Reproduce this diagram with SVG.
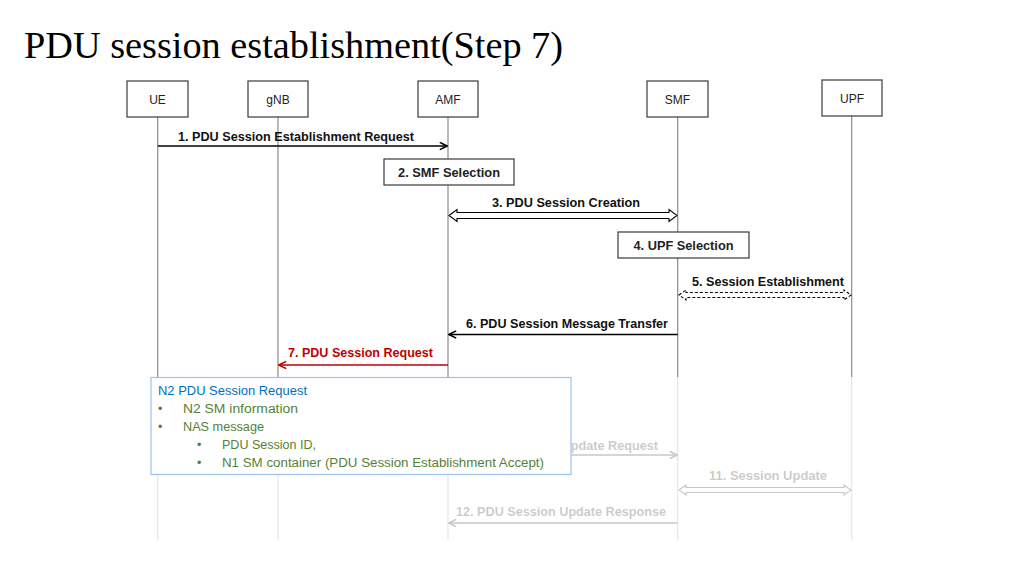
<svg xmlns="http://www.w3.org/2000/svg" width="1024" height="576" viewBox="0 0 1024 576">
<defs>
<style>
.node rect{fill:#fff;stroke:#3a3a3a;stroke-width:1.2}
.node text{font-family:"Liberation Sans",Arial,sans-serif;font-size:12px;fill:#222;text-anchor:middle}
.life{stroke:#8a8a8a;stroke-width:1.2}
.msg{stroke:#000;stroke-width:1.6;fill:none}
.lbl{font-family:"Liberation Sans",Arial,sans-serif;font-size:12.5px;font-weight:bold;fill:#111;text-anchor:middle}
.hollow{fill:#fff;stroke:#000;stroke-width:1.1}
.ct{font-family:"Liberation Sans",Arial,sans-serif;font-size:12.5px}
</style>
<marker id="ah" viewBox="0 0 10 10" refX="9" refY="5" markerWidth="9" markerHeight="9" markerUnits="userSpaceOnUse" orient="auto">
<path d="M1,1 L9,5 L1,9" fill="none" stroke="#000" stroke-width="1.8"/>
</marker>
<marker id="ahr" viewBox="0 0 10 10" refX="9" refY="5" markerWidth="9" markerHeight="9" markerUnits="userSpaceOnUse" orient="auto">
<path d="M1,1 L9,5 L1,9" fill="none" stroke="#c00000" stroke-width="1.8"/>
</marker>
</defs>
<rect width="1024" height="576" fill="#fff"/>
<text x="24" y="58" font-family="Liberation Serif,'Times New Roman',serif" font-size="38" fill="#000" textLength="539" lengthAdjust="spacingAndGlyphs">PDU session establishment(Step 7)</text>

<g id="lifelines">
<line class="life" x1="157.7" y1="117" x2="157.7" y2="540"/>
<line class="life" x1="278" y1="117" x2="278" y2="540"/>
<line class="life" x1="448" y1="117" x2="448" y2="540"/>
<line class="life" x1="677.7" y1="117" x2="677.7" y2="540"/>
<line class="life" x1="851.7" y1="116" x2="851.7" y2="540"/>
</g>

<g id="UE" class="node"><rect x="127" y="81" width="61" height="36"/><text x="157.5" y="104">UE</text></g>
<g id="gNB" class="node"><rect x="248" y="81" width="60" height="36"/><text x="278" y="104">gNB</text></g>
<g id="AMF" class="node"><rect x="418" y="81" width="60" height="36"/><text x="448" y="104">AMF</text></g>
<g id="SMF" class="node"><rect x="647" y="81" width="61" height="36"/><text x="677.5" y="104">SMF</text></g>
<g id="UPF" class="node"><rect x="822" y="80" width="60" height="36"/><text x="852" y="103">UPF</text></g>

<g id="step2" class="node"><rect x="384" y="159" width="130" height="26"/><text class="lbl" x="449" y="177" textLength="102" lengthAdjust="spacingAndGlyphs" style="font-weight:bold;font-size:12.5px">2. SMF Selection</text></g>
<g id="step4" class="node"><rect x="618" y="232" width="131" height="26"/><text class="lbl" x="683.5" y="250" textLength="100" lengthAdjust="spacingAndGlyphs" style="font-weight:bold;font-size:12.5px">4. UPF Selection</text></g>

<g id="connectors">
<line class="msg" x1="158" y1="146" x2="447" y2="146" marker-end="url(#ah)"/>
<text class="lbl" x="296" y="141" textLength="236" lengthAdjust="spacingAndGlyphs">1. PDU Session Establishment Request</text>

<path class="hollow" d="M449,215.5 L457,209.5 L457,212.5 L669,212.5 L669,209.5 L677,215.5 L669,221.5 L669,218.5 L457,218.5 L457,221.5 Z"/>
<text class="lbl" x="566" y="207" textLength="148" lengthAdjust="spacingAndGlyphs">3. PDU Session Creation</text>

<path class="hollow" stroke-dasharray="3,2" d="M679,295 L686,290 L686,292.5 L844,292.5 L844,290 L851,295 L844,300 L844,297.5 L686,297.5 L686,300 Z"/>
<text class="lbl" x="768" y="286" textLength="152" lengthAdjust="spacingAndGlyphs">5. Session Establishment</text>

<line class="msg" x1="677.7" y1="334.5" x2="449" y2="334.5" marker-end="url(#ah)"/>
<text class="lbl" x="567" y="328" textLength="202" lengthAdjust="spacingAndGlyphs">6. PDU Session Message Transfer</text>

<line class="msg" x1="448" y1="365" x2="279" y2="365" stroke="#c00000" style="stroke:#c00000" marker-end="url(#ahr)"/>
<text class="lbl" x="360.5" y="357" textLength="145" lengthAdjust="spacingAndGlyphs" style="fill:#c00000">7. PDU Session Request</text>

<line class="msg" x1="448" y1="455" x2="677" y2="455" marker-end="url(#ah)"/>
<text class="lbl" x="558" y="450" textLength="200" lengthAdjust="spacingAndGlyphs">10. PDU Session Update Request</text>

<path class="hollow" d="M679,490 L686,485 L686,487.5 L844,487.5 L844,485 L851,490 L844,495 L844,492.5 L686,492.5 L686,495 Z"/>
<text class="lbl" x="768" y="480" textLength="118" lengthAdjust="spacingAndGlyphs">11. Session Update</text>

<line class="msg" x1="677.7" y1="523" x2="449" y2="523" marker-end="url(#ah)"/>
<text class="lbl" x="561" y="516" textLength="210" lengthAdjust="spacingAndGlyphs">12. PDU Session Update Response</text>
</g>

<rect x="0" y="377" width="1024" height="199" fill="#fff" opacity="0.78"/>

<g id="callout">
<rect x="151" y="377.5" width="420" height="97" fill="#fff" stroke="#9dc3e6" stroke-width="1.2"/>
<text class="ct" x="158" y="395" fill="#0070c0" textLength="149" lengthAdjust="spacingAndGlyphs">N2 PDU Session Request</text>
<g fill="#548235">
<text class="ct" x="158" y="413">•</text>
<text class="ct" x="183" y="413" textLength="115" lengthAdjust="spacingAndGlyphs">N2 SM information</text>
<text class="ct" x="158" y="431">•</text>
<text class="ct" x="183" y="431" textLength="81" lengthAdjust="spacingAndGlyphs">NAS message</text>
<text class="ct" x="197" y="449">•</text>
<text class="ct" x="222" y="449" textLength="94" lengthAdjust="spacingAndGlyphs">PDU Session ID,</text>
<text class="ct" x="197" y="467">•</text>
<text class="ct" x="222" y="467" textLength="322" lengthAdjust="spacingAndGlyphs">N1 SM container (PDU Session Establishment Accept)</text>
</g>
</g>
</svg>
